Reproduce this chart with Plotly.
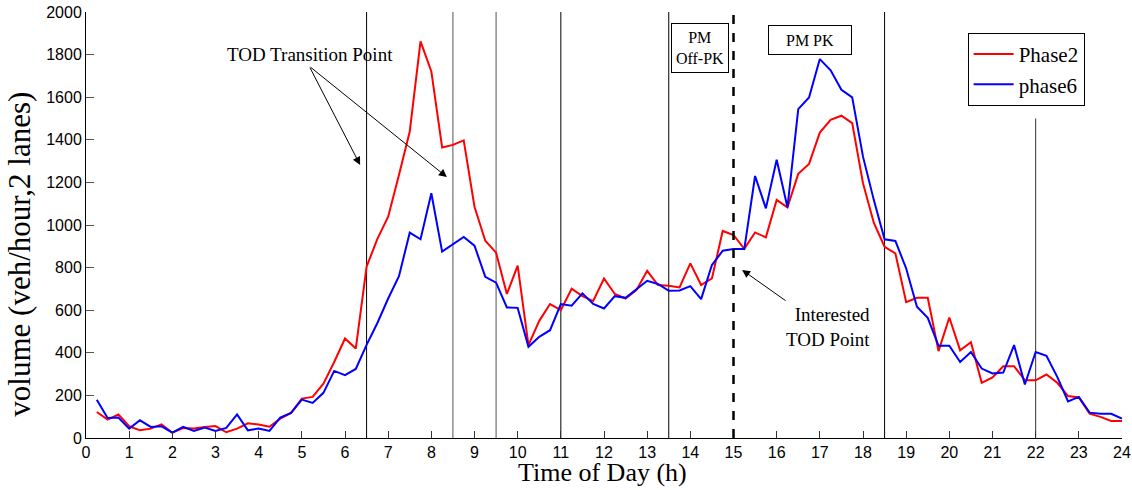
import plotly.graph_objects as go

# time of day, 15-min bins
hours = [i / 4 for i in range(1, 97)]

phase2 = [122, 86, 111, 55, 36, 44, 64, 25, 47, 45, 52, 56, 27, 44, 69, 63,
          53, 91, 118, 185, 193, 255, 357, 467, 420, 804, 935, 1039, 1235, 1439, 1862, 1721,
          1364, 1376, 1397, 1086, 926, 870, 676, 809, 436, 550, 629, 600, 701, 666, 643, 749,
          676, 655, 694, 785, 718, 715, 707, 820, 718, 749, 972, 953, 888, 965, 942, 1118,
          1083, 1240, 1287, 1434, 1494, 1513, 1478, 1196, 1011, 898, 867, 638, 658, 658, 408, 566,
          412, 450, 259, 284, 337, 337, 271, 271, 298, 259, 197, 190, 114, 99, 80, 80]

phase6 = [180, 94, 96, 44, 83, 52, 55, 25, 52, 33, 49, 33, 47, 111, 36, 45,
          33, 96, 118, 180, 165, 212, 315, 295, 324, 437, 540, 655, 760, 964, 933, 1149,
          875, 909, 944, 903, 757, 729, 613, 611, 428, 475, 506, 629, 621, 679, 629, 608,
          666, 658, 697, 738, 723, 691, 693, 713, 652, 812, 879, 887, 887, 1230, 1078, 1306,
          1083, 1544, 1599, 1779, 1726, 1635, 1599, 1321, 1118, 933, 925, 796, 616, 564, 433, 433,
          357, 404, 326, 303, 307, 436, 251, 404, 386, 287, 172, 193, 119, 114, 114, 91]

tod_lines = [6.5, 8.5, 9.5, 11, 13.5, 18.5]
interested_point = 15
late_line = 22
late_line_top = 1500

SERIF = "Liberation Serif, Times New Roman, serif"
SANS = "Liberation Sans, Arial, sans-serif"

fig = go.Figure()
fig.add_trace(go.Scatter(x=hours, y=phase2, mode="lines", name="Phase2",
                         line=dict(color="#ff0000", width=2)))
fig.add_trace(go.Scatter(x=hours, y=phase6, mode="lines", name="phase6",
                         line=dict(color="#0000ff", width=2)))

# transition lines
for xv in tod_lines:
    col = "#555555" if xv in (8.5, 9.5) else "black"
    fig.add_shape(type="line", xref="x", yref="y", x0=xv, x1=xv, y0=0, y1=2000,
                  line=dict(color=col, width=1), layer="below")
fig.add_shape(type="line", xref="x", yref="y", x0=interested_point, x1=interested_point,
              y0=0, y1=2000, line=dict(color="black", width=2.5, dash="dash"))
fig.add_shape(type="line", xref="x", yref="y", x0=late_line, x1=late_line,
              y0=0, y1=late_line_top, line=dict(color="#333333", width=1), layer="below")

# annotations
fig.add_annotation(x=5.2, y=1800, text="TOD Transition Point", showarrow=False,
                   font=dict(family=SERIF, size=19, color="black"))
for hx, hy in [(6.35, 1282), (8.36, 1225)]:
    fig.add_annotation(x=hx, y=hy, ax=5.17, ay=1746, axref="x", ayref="y", text="",
                       showarrow=True, arrowhead=2, arrowsize=1.6, arrowwidth=1,
                       arrowcolor="black")
fig.add_annotation(x=14.22, y=1830, text="PM<br>Off-PK", showarrow=False,
                   font=dict(family=SERIF, size=16, color="black"), width=54, height=46,
                   bordercolor="black", borderwidth=1, borderpad=1, bgcolor="white")
fig.add_annotation(x=16.77, y=1870, text="PM PK", showarrow=False,
                   font=dict(family=SERIF, size=16, color="black"), width=80, height=26,
                   bordercolor="black", borderwidth=1, borderpad=1, bgcolor="white")
fig.add_annotation(x=18.2, y=520, text="Interested<br>TOD Point", showarrow=False,
                   align="right", xanchor="right",
                   font=dict(family=SERIF, size=19, color="black"))
fig.add_annotation(x=15.2, y=789, ax=16.24, ay=640, axref="x", ayref="y", text="",
                   showarrow=True, arrowhead=2, arrowsize=1.6, arrowwidth=1,
                   arrowcolor="black")

# axis titles
fig.add_annotation(xref="paper", yref="paper", x=0.499, y=-0.082, text="Time of Day (h)",
                   showarrow=False, xanchor="center", yanchor="middle", borderpad=0,
                   font=dict(family=SERIF, size=26, color="black"))
fig.add_annotation(xref="paper", yref="paper", x=-0.064, y=0.432,
                   text="volume (veh/hour,2 lanes)", textangle=-90,
                   showarrow=False, xanchor="center", yanchor="middle",
                   font=dict(family=SERIF, size=31, color="black"))

fig.update_layout(
    width=1132, height=490,
    margin=dict(l=86, r=10, t=12, b=52),
    plot_bgcolor="white", paper_bgcolor="white",
    showlegend=True,
    legend=dict(x=0.851, y=0.951, xanchor="left", yanchor="top",
                bordercolor="black", borderwidth=1, bgcolor="white",
                font=dict(family=SERIF, size=21, color="black"),
                tracegroupgap=0, itemwidth=40),
)
fig.update_xaxes(range=[0, 24], dtick=1, tick0=0, showgrid=False, zeroline=False,
                 showline=True, linecolor="black", linewidth=1, automargin=False,
                 ticks="inside", ticklen=7, tickcolor="#333333",
                 tickfont=dict(family=SANS, size=16, color="black"))
fig.update_yaxes(range=[0, 2000], dtick=200, tick0=0, showgrid=False, zeroline=False,
                 showline=True, linecolor="black", linewidth=1, automargin=False,
                 ticks="inside", ticklen=8, tickcolor="#555555",
                 tickfont=dict(family=SANS, size=16, color="black"))

fig.write_html("out.html", config={"displayModeBar": False},
               post_script="document.body.style.margin='0';")
